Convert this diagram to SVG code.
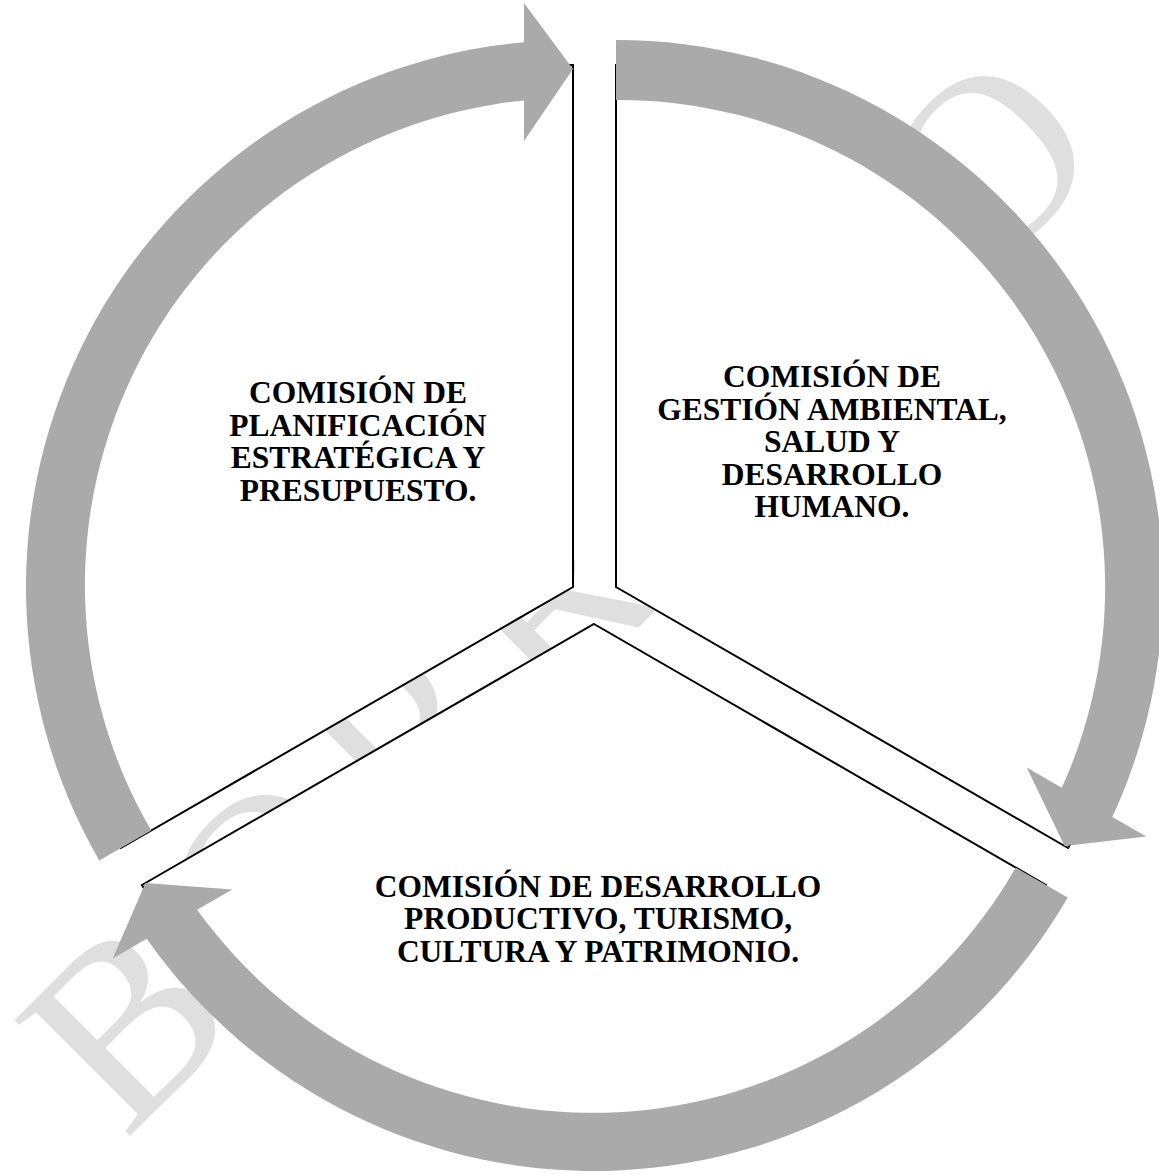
<svg xmlns="http://www.w3.org/2000/svg" width="1159" height="1174" viewBox="0 0 1159 1174">
  <style>
    .wm { font-family: "Liberation Serif", "Times New Roman", serif; font-size: 250px; fill: #dfdfdf; letter-spacing: 28.3px; }
    .seg { fill: #ffffff; stroke: #000000; stroke-width: 2; stroke-linejoin: miter; }
    .arrow { fill: #aaaaaa; stroke: none; }
    .label { font-family: "Liberation Serif", "Times New Roman", serif; font-size: 31.5px; font-weight: bold; fill: #000000; text-anchor: middle; }
  </style>
  <rect width="1159" height="1174" fill="#ffffff"/>
  <g id="watermark">
    <text class="wm" transform="translate(125,1141) rotate(-45)">BORRADO</text>
  </g>
  <g id="node-planificacion">
    <path class="seg" d="M 573 587 L 573 65 A 522 522 0 0 0 120.93 848 Z"/>
  </g>
  <g id="node-gestion">
    <path class="seg" d="M 616 587 L 616 65 A 522 522 0 0 1 1068.07 848 Z"/>
  </g>
  <g id="node-desarrollo">
    <path class="seg" d="M 594 624 L 1046.07 885 A 522 522 0 0 1 141.93 885 Z"/>
  </g>
  <g id="connectors">
    <path class="arrow" d="M 99.28 860.5 A 547 547 0 0 1 524 42.2 L 524 3 L 573 69 L 524 141 L 524 100.5 A 487 487 0 0 0 151.24 830.5 Z"/>
    <path class="arrow" d="M 616 40 A 547 547 0 0 1 1112.3 817 L 1146.3 836.6 L 1064.6 846 L 1026.7 767.6 L 1061.8 787.8 A 487 487 0 0 0 616 100 Z"/>
    <path class="arrow" d="M 1067.72 897.5 A 547 547 0 0 1 146.69 938.84 L 112.74 958.44 L 145.4 883 L 232.25 889.44 L 197.18 909.69 A 487 487 0 0 0 1015.76 867.5 Z"/>
  </g>
  <g id="label-planificacion">
    <text class="label" x="358" y="403">COMISIÓN DE</text>
    <text class="label" x="358" y="435.5">PLANIFICACIÓN</text>
    <text class="label" x="358" y="468">ESTRATÉGICA Y</text>
    <text class="label" x="358" y="500.5">PRESUPUESTO.</text>
  </g>
  <g id="label-gestion">
    <text class="label" x="832" y="387">COMISIÓN DE</text>
    <text class="label" x="832" y="419.5">GESTIÓN AMBIENTAL,</text>
    <text class="label" x="832" y="452">SALUD Y</text>
    <text class="label" x="832" y="484.5">DESARROLLO</text>
    <text class="label" x="832" y="517">HUMANO.</text>
  </g>
  <g id="label-desarrollo">
    <text class="label" x="598" y="896.5">COMISIÓN DE DESARROLLO</text>
    <text class="label" x="598" y="929">PRODUCTIVO, TURISMO,</text>
    <text class="label" x="598" y="961.5">CULTURA Y PATRIMONIO.</text>
  </g>
</svg>
